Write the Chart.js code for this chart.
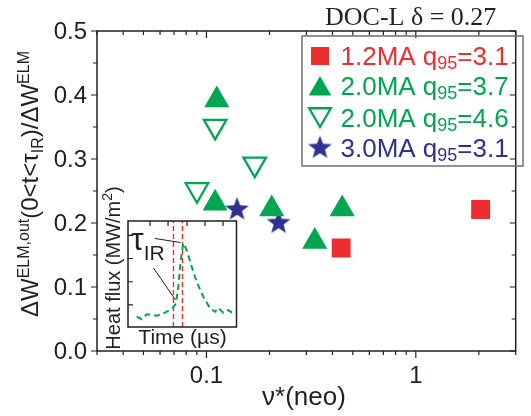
<!DOCTYPE html>
<html lang="en">
<head>
<meta charset="UTF-8">
<title>ELM energy fraction vs collisionality</title>
<script src="https://cdn.jsdelivr.net/npm/chart.js@4.4.0/dist/chart.umd.min.js"></script>
<style>
  body { margin: 0; background: #fff; }
  #wrap { position: relative; width: 531px; height: 416px; }
  #wrap canvas { position: absolute; }
</style>
</head>
<body>
<div id="wrap">
  <canvas id="mainChart" width="531" height="416" style="left:0;top:0"></canvas>
  <canvas id="insetChart" width="140" height="180" style="left:100px;top:175px"></canvas>
</div>
<script>
// values
const seriesNames = ['1.2MA q95=3.1', '2.0MA q95=3.7', '2.0MA q95=4.6', '3.0MA q95=3.1'];
const ma12Nu = [0.44, 2.04];
const ma12Frac = [0.161, 0.221];
const ma20q37Nu = [0.112, 0.110, 0.205, 0.329, 0.445];
const ma20q37Frac = [0.392, 0.231, 0.222, 0.171, 0.222];
const ma20q46Nu = [0.110, 0.170, 0.090];
const ma20q46Frac = [0.351, 0.292, 0.252];
const ma30Nu = [0.140, 0.221];
const ma30Frac = [0.221, 0.200];
const xTickLabels = [0.1, 1];
const yTickLabels = [0, 0.1, 0.2, 0.3, 0.4, 0.5];

// inset: IR heat flux trace (arbitrary units)
const insetTime = [8.0, 12.6, 17.2, 21.8, 26.5, 31.1, 35.7, 41.8, 44.2, 46.4, 48.6, 51.0, 54.1, 58.7, 63.3, 69.4, 75.6, 80.2, 83.2, 87.8, 92.4, 97.0];
const insetFlux = [9.7, 7.3, 12.0, 11.3, 10.7, 12.0, 14.4, 18.6, 22.4, 38.0, 63.2, 79.0, 72.6, 56.9, 42.7, 28.6, 17.6, 14.4, 18.2, 13.5, 16.0, 12.9];
const tauMarks = [41.9, 50.2];

const RED = '#ED2E30', GREEN = '#00A650', BLUE = '#2E3192', INK = '#231F20';
const SANS = "'Liberation Sans', Arial, sans-serif";

function starImage(color, R) {
  const c = document.createElement('canvas');
  const s = Math.ceil(R * 2) + 2;
  c.width = s; c.height = s;
  const g = c.getContext('2d');
  g.fillStyle = color;
  g.beginPath();
  for (let i = 0; i < 10; i++) {
    const r = i % 2 ? R * 0.42 : R;
    const a = -Math.PI / 2 + i * Math.PI / 5;
    g.lineTo(s / 2 + r * Math.cos(a), s / 2 + r * Math.sin(a));
  }
  g.closePath();
  g.fill();
  return c;
}
const star = starImage(BLUE, 12.5);

function pts(xs, ys) { return xs.map((v, i) => ({ x: v, y: ys[i] })); }

// text with sub/superscripts: parts = [text, size, shift]
function richText(ctx, parts, x, y, align) {
  let w = 0;
  parts.forEach(p => { ctx.font = p[1] + 'px ' + SANS; w += ctx.measureText(p[0]).width; });
  let cx = align === 'center' ? x - w / 2 : x;
  ctx.textAlign = 'left';
  ctx.textBaseline = 'alphabetic';
  parts.forEach(p => {
    ctx.font = p[1] + 'px ' + SANS;
    ctx.fillText(p[0], cx, y + (p[2] || 0));
    cx += ctx.measureText(p[0]).width;
  });
}

function triangle(ctx, x, y, r, down) {
  const s = down ? -1 : 1;
  ctx.beginPath();
  for (let i = 0; i < 3; i++) {
    const a = i * 2 * Math.PI / 3;
    ctx.lineTo(x + Math.sin(a) * r, y - s * Math.cos(a) * r);
  }
  ctx.closePath();
}

const frame = {
  id: 'frame',
  afterDraw(chart) {
    const { ctx, chartArea: a, scales: { x, y } } = chart;
    ctx.save();
    ctx.strokeStyle = INK;
    ctx.lineWidth = 1.5;
    ctx.strokeRect(a.left, a.top, a.right - a.left, a.bottom - a.top);

    // log ticks, outward at bottom, inward at top
    ctx.lineWidth = 1.2;
    ctx.beginPath();
    [0.01, 0.1, 1].forEach(d => {
      for (let k = 1; k < 10; k++) {
        const v = k * d;
        if (v < 0.0299 || v > 3.001) continue;
        const px = x.getPixelForValue(v);
        const len = k === 1 ? 7 : 4;
        ctx.moveTo(px, a.bottom); ctx.lineTo(px, a.bottom + len);
        ctx.moveTo(px, a.top); ctx.lineTo(px, a.top + len);
      }
    });
    for (let i = 0; i <= 10; i++) {
      const py = y.getPixelForValue(i * 0.05);
      const len = i % 2 === 0 ? 6 : 4;
      ctx.moveTo(a.left - len, py); ctx.lineTo(a.left, py);
      ctx.moveTo(a.right - len, py); ctx.lineTo(a.right, py);
    }
    ctx.stroke();

    // tick labels
    ctx.fillStyle = INK;
    ctx.font = '24px ' + SANS;
    ctx.textAlign = 'right';
    ctx.textBaseline = 'middle';
    yTickLabels.forEach(v => ctx.fillText(v.toFixed(1), a.left - 10, y.getPixelForValue(v) + 1));
    ctx.textAlign = 'center';
    ctx.textBaseline = 'alphabetic';
    xTickLabels.forEach(v => ctx.fillText(String(v), x.getPixelForValue(v), 383));

    // axis titles
    ctx.font = '26px ' + SANS;
    ctx.fillText('\u03bd*(neo)', 304, 405);
    ctx.save();
    ctx.translate(38, 184);
    ctx.rotate(-Math.PI / 2);
    richText(ctx, [['\u0394W', 24], ['ELM,out', 16, -9], ['(0<t<\u03c4', 24], ['IR', 16, 5],
                   [')/\u0394W', 24], ['ELM', 16, -9]], 0, 0, 'center');
    ctx.restore();

    // title
    ctx.font = "26px 'Liberation Serif', 'Times New Roman', serif";
    ctx.textAlign = 'left';
    ctx.fillText('DOC-L \u03b4 = 0.27', 325, 25);

    // legend
    ctx.strokeStyle = '#6D6E71';
    ctx.lineWidth = 1.5;
    ctx.strokeRect(302, 36, 221, 130);
    const colors = [RED, GREEN, GREEN, BLUE];
    const rowY = [56, 86, 117.5, 148];
    rowY.forEach((ry, i) => {
      ctx.fillStyle = colors[i];
      ctx.strokeStyle = colors[i];
      if (i === 0) ctx.fillRect(311, ry - 9, 18, 18);
      if (i === 1) { triangle(ctx, 320, ry + 3, 13, false); ctx.fill(); }
      if (i === 2) { ctx.lineWidth = 2.3; triangle(ctx, 320, ry - 3, 12.5, true); ctx.stroke(); }
      if (i === 3) ctx.drawImage(star, 320 - star.width / 2, ry - star.height / 2);
      const [head, rest] = seriesNames[i].split('q95');
      richText(ctx, [[head + 'q', 26], ['95', 18, 4], [rest, 26]], 340.5, ry + 9, 'left');
    });
    ctx.restore();
  }
};

new Chart(document.getElementById('mainChart'), {
  type: 'scatter',
  data: {
    datasets: [
      { label: seriesNames[0], data: pts(ma12Nu, ma12Frac), pointStyle: 'rect', pointRadius: 13.4,
        pointBackgroundColor: RED, pointBorderWidth: 0 },
      { label: seriesNames[1], data: pts(ma20q37Nu, ma20q37Frac), pointStyle: 'triangle', pointRadius: 14.5,
        pointBackgroundColor: GREEN, pointBorderWidth: 0 },
      { label: seriesNames[2], data: pts(ma20q46Nu, ma20q46Frac), pointStyle: 'triangle', pointRotation: 180,
        pointRadius: 13, pointBackgroundColor: 'rgba(0,0,0,0)', pointBorderColor: GREEN, pointBorderWidth: 2.3 },
      { label: seriesNames[3], data: pts(ma30Nu, ma30Frac), pointStyle: star, pointRadius: 12 }
    ]
  },
  options: {
    responsive: false,
    animation: false,
    events: [],
    layout: { padding: { left: 97, top: 31, right: 1.5, bottom: 65 } },
    plugins: { legend: { display: false }, tooltip: { enabled: false } },
    scales: {
      x: { type: 'logarithmic', min: 0.03, max: 3, display: false },
      y: { min: 0, max: 0.5, display: false }
    }
  },
  plugins: [frame]
});

// ---- inset ----
const insetFrame = {
  id: 'insetFrame',
  afterDraw(chart) {
    const { ctx, chartArea: a, scales: { x, y } } = chart;
    ctx.save();
    ctx.strokeStyle = INK;
    ctx.lineWidth = 1.5;
    ctx.strokeRect(a.left, a.top, a.right - a.left, a.bottom - a.top);
    ctx.lineWidth = 1.2;
    ctx.beginPath();
    [20.8, 42.7, 64.6, 86.5].forEach(v => {
      const py = y.getPixelForValue(v);
      ctx.moveTo(a.left, py); ctx.lineTo(a.left + 5, py);
    });
    [20.3, 36.9, 54.4, 71, 87.6].forEach(v => {
      const px = x.getPixelForValue(v);
      ctx.moveTo(px, a.top); ctx.lineTo(px, a.top + 5);
    });
    ctx.stroke();

    ctx.fillStyle = INK;
    ctx.font = '21px ' + SANS;
    ctx.textAlign = 'center';
    ctx.fillText('Time (\u00b5s)', 82.5, 169);
    ctx.save();
    ctx.translate(20, 93);
    ctx.rotate(-Math.PI / 2);
    richText(ctx, [['Heat flux (MW/m', 20], ['2', 14, -8], [')', 20]], 0, 0, 'center');
    ctx.restore();
    richText(ctx, [['\u03c4', 32], ['IR', 21, 10]], 31, 75, 'left');
    ctx.restore();
  }
};

new Chart(document.getElementById('insetChart'), {
  type: 'scatter',
  data: {
    datasets: [
      { data: pts(insetTime, insetFlux), showLine: true, borderColor: GREEN, borderWidth: 2,
        borderDash: [6, 4], pointRadius: 0 },
      ...tauMarks.map(t => ({ data: [{ x: t, y: 0 }, { x: t, y: 100 }], showLine: true, borderColor: RED,
        borderWidth: 1.4, borderDash: [5, 3], pointRadius: 0 })),
      { data: [{ x: 24.9, y: 83.5 }, { x: 48.4, y: 79.7 }], showLine: true, borderColor: INK, borderWidth: 1, pointRadius: 0 },
      { data: [{ x: 23.5, y: 55.7 }, { x: 43.8, y: 25.5 }], showLine: true, borderColor: INK, borderWidth: 1, pointRadius: 0 }
    ]
  },
  options: {
    responsive: false,
    animation: false,
    events: [],
    layout: { padding: { left: 28, top: 46, right: 3.5, bottom: 28 } },
    plugins: { legend: { display: false }, tooltip: { enabled: false } },
    scales: {
      x: { type: 'linear', min: 0, max: 100, display: false },
      y: { min: 0, max: 100, display: false }
    }
  },
  plugins: [insetFrame]
});
</script>
</body>
</html>
